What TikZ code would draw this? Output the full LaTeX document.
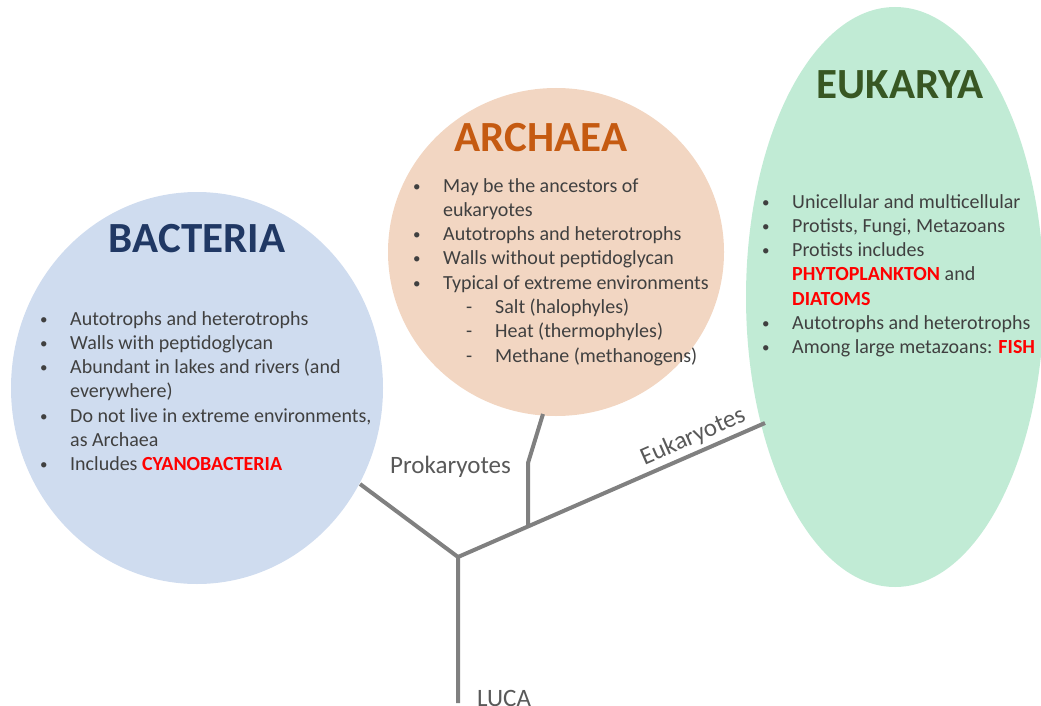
\documentclass[tikz,border=0pt]{standalone}
\usepackage{fontspec}
\setmainfont{Carlito}
\usetikzlibrary{shapes.geometric}
\definecolor{bactfill}{HTML}{CFDCEF}
\definecolor{archfill}{HTML}{F2D6C2}
\definecolor{eukfill}{HTML}{C1EBD5}
\definecolor{bacttitle}{HTML}{203864}
\definecolor{archtitle}{HTML}{C55A11}
\definecolor{euktitle}{HTML}{385723}
\definecolor{bodytext}{HTML}{404040}
\definecolor{treegray}{HTML}{808080}
\definecolor{labgray}{HTML}{595959}
\definecolor{hired}{HTML}{FF0000}
\newcommand\bi[1]{\noindent\makebox[30pt][l]{\raisebox{1pt}{\fontsize{15}{15}\selectfont •}}#1\par}
\newcommand\ci[1]{\noindent\hspace*{30pt}#1\par}
\newcommand\di[1]{\noindent\hspace*{53pt}\makebox[29pt][l]{-}#1\par}
\newcommand\hl[1]{\textcolor{hired}{\textbf{#1}}}
\newcommand\listbox[1]{\parbox[t]{400pt}{\fontsize{20}{24.3}\selectfont#1}}
\tikzset{
  domainshape/.style={ellipse, draw=none, inner sep=0pt},
  ttlnode/.style={font=\fontsize{43}{50}\selectfont\bfseries, anchor=base, inner sep=0pt},
  listnode/.style={anchor=base west, inner sep=0pt, text=bodytext},
  branchline/.style={draw=treegray, line width=4pt},
  labnode/.style={font=\fontsize{25}{30}\selectfont, text=labgray, inner sep=0pt}
}
\begin{document}
\begin{tikzpicture}[x=1pt,y=-1pt]
\useasboundingbox (0,0) rectangle (1041,706);
\clip (0,0) rectangle (1041,706);
% domains
\node[domainshape, fill=bactfill, minimum width=372pt, minimum height=392pt] (bact) at (197,388) {};
\node[domainshape, fill=archfill, minimum width=336pt, minimum height=328pt] (arch) at (556,252) {};
\node[domainshape, fill=eukfill, minimum width=298pt, minimum height=580pt] (euk) at (895,297) {};
% titles
\node[ttlnode, text=bacttitle] (tb) at (197,252) {BACTERIA};
\node[ttlnode, text=archtitle] (ta) at (541,151) {ARCHAEA};
\node[ttlnode, text=euktitle] (te) at (900,99) {EUKARYA};
% lists
\node[listnode] (lb) at (40,325) {\listbox{%
\bi{Autotrophs and heterotrophs}
\bi{Walls with peptidoglycan}
\bi{Abundant in lakes and rivers (and}
\ci{everywhere)}
\bi{Do not live in extreme environments,}
\ci{as Archaea}
\bi{Includes \hl{CYANOBACTERIA}}}};
\node[listnode] (la) at (413,192) {\listbox{%
\bi{May be the ancestors of}
\ci{eukaryotes}
\bi{Autotrophs and heterotrophs}
\bi{Walls without peptidoglycan}
\bi{Typical of extreme environments}
\di{Salt (halophyles)}
\di{Heat (thermophyles)}
\di{Methane (methanogens)}}};
\node[listnode] (le) at (762,208) {\listbox{%
\bi{Unicellular and multicellular}
\bi{Protists, Fungi, Metazoans}
\bi{Protists includes}
\ci{\hl{PHYTOPLANKTON} and}
\ci{\hl{DIATOMS}}
\bi{Autotrophs and heterotrophs}
\bi{Among large metazoans: \hl{FISH}}}};
% tree
\coordinate (root) at (458,557);
\coordinate (luca) at (458,703);
\coordinate (bend) at (360,484);
\coordinate (split) at (528,527);
\coordinate (knee) at (528,463);
\coordinate (aend) at (543,414);
\coordinate (eend) at (765,423);
\draw[branchline] (bend) -- (root) -- (luca);
\draw[branchline] (root) -- (eend);
\draw[branchline] (split) -- (knee) -- (aend);
% labels
\node[labnode, anchor=base west] (lp) at (390,473) {Prokaryotes};
\node[labnode, rotate=23.6] (lk) at (693,437) {Eukaryotes};
\node[labnode, anchor=base west] (ll) at (477,706) {LUCA};
\end{tikzpicture}
\end{document}
